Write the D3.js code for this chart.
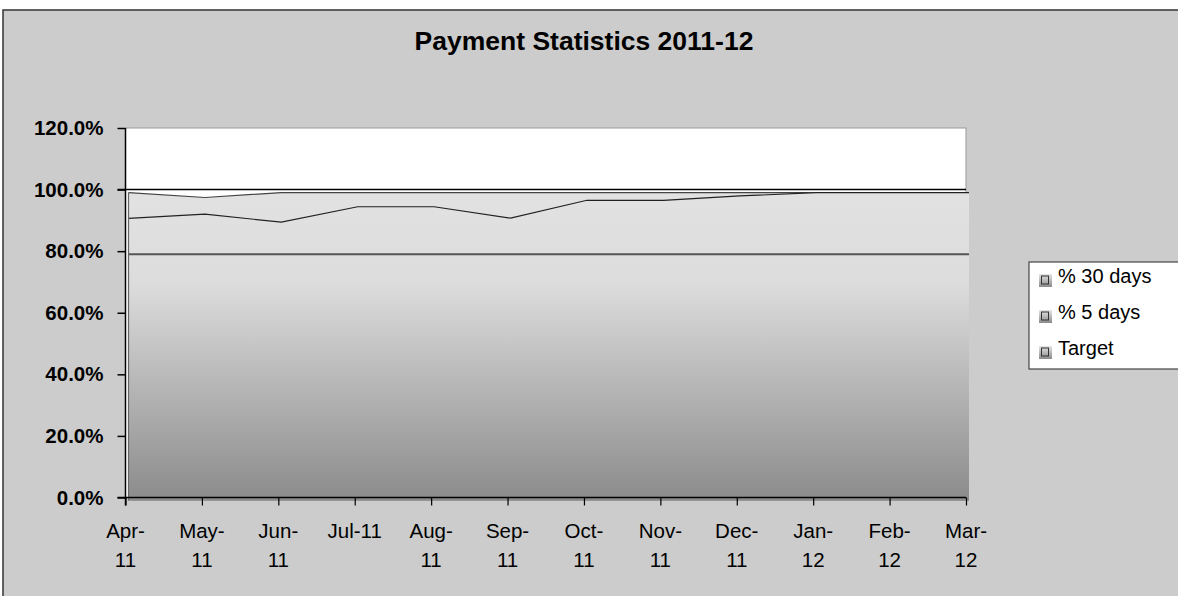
<!DOCTYPE html>
<html>
<head>
<meta charset="utf-8">
<script src="https://cdn.jsdelivr.net/npm/d3@7"></script>
<style>
  body { margin: 0; background: #fff; }
  text { font-family: 'Liberation Sans', Arial, sans-serif; }
</style>
</head>
<body>
<div class="canvas"></div>
<script>
// data
const months = ['Apr-11', 'May-11', 'Jun-11', 'Jul-11', 'Aug-11', 'Sep-11',
  'Oct-11', 'Nov-11', 'Dec-11', 'Jan-12', 'Feb-12', 'Mar-12'];
const pct30 = [100, 98.4, 100, 100, 100, 100, 100, 100, 100, 100, 100, 100];
const pct5 = [91.6, 93.0, 90.4, 95.4, 95.4, 91.7, 97.5, 97.5, 98.9, 100, 100, 100];
const target = [80, 80, 80, 80, 80, 80, 80, 80, 80, 80, 80, 80];
const yTicks = [0, 20, 40, 60, 80, 100, 120];
const seriesNames = ['% 30 days', '% 5 days', 'Target'];

const width = 1178, height = 596;
const plot = { left: 125.5, right: 966, top: 128, bottom: 497.5 };
const depth = 3; // little 3D offset of the series

//Canvas
const svg = d3.select('.canvas')
  .append('svg')
  .attr('width', width)
  .attr('height', height);

// gradient used by the areas and legend keys
const defs = svg.append('defs');
const grad = defs.append('linearGradient')
  .attr('id', 'areaGrad')
  .attr('gradientUnits', 'userSpaceOnUse')
  .attr('x1', 0).attr('x2', 0)
  .attr('y1', plot.top + 60).attr('y2', plot.bottom + depth);
grad.append('stop').attr('offset', '0%').attr('stop-color', '#e2e2e2');
grad.append('stop').attr('offset', '30%').attr('stop-color', '#dcdcdc');
grad.append('stop').attr('offset', '100%').attr('stop-color', '#8a8a8a');

const keyGrad = defs.append('linearGradient')
  .attr('id', 'keyGrad')
  .attr('x1', 0).attr('x2', 0).attr('y1', 0).attr('y2', 1);
keyGrad.append('stop').attr('offset', '0%').attr('stop-color', '#e6e6e6');
keyGrad.append('stop').attr('offset', '100%').attr('stop-color', '#8a8a8a');

// chart background + border
svg.append('rect')
  .attr('x', 3).attr('y', 10)
  .attr('width', width + 10).attr('height', height)
  .attr('fill', '#cccccc')
  .attr('stroke', '#333')
  .attr('stroke-width', 1.5);

// title
svg.append('text')
  .attr('x', 584).attr('y', 50)
  .attr('text-anchor', 'middle')
  .attr('font-size', 26.5)
  .attr('font-weight', 'bold')
  .attr('fill', '#000')
  .text('Payment Statistics 2011-12');

// scales
const x = d3.scalePoint().domain(months).range([plot.left, plot.right]);
const y = d3.scaleLinear().domain([0, 120]).range([plot.bottom, plot.top]);

// plot area
svg.append('rect')
  .attr('x', plot.left).attr('y', plot.top)
  .attr('width', plot.right - plot.left).attr('height', plot.bottom - plot.top)
  .attr('fill', '#fff')
  .attr('stroke', '#999')
  .attr('stroke-width', 1);

// 100% line
svg.append('line')
  .attr('x1', plot.left - 8).attr('x2', plot.right)
  .attr('y1', y(100)).attr('y2', y(100))
  .attr('stroke', '#000')
  .attr('stroke-width', 1.5);

// series (drawn back to front)
const graph = svg.append('g')
  .attr('transform', `translate(${depth},${depth})`);

const area = d3.area()
  .x((d, i) => x(months[i]))
  .y0(y(0))
  .y1((d) => y(d));

const line = d3.line()
  .x((d, i) => x(months[i]))
  .y((d) => y(d));

const series = [
  { values: pct30, stroke: '#444', w: 1.2 },
  { values: pct5, stroke: '#222', w: 1.2 },
  { values: target, stroke: '#555', w: 2 }
];

series.forEach((s) => {
  graph.append('path')
    .attr('d', area(s.values))
    .attr('fill', 'url(#areaGrad)');
  graph.append('path')
    .attr('d', line(s.values))
    .attr('fill', 'none')
    .attr('stroke', s.stroke)
    .attr('stroke-width', s.w);
});

// left edge of the areas
graph.append('line')
  .attr('x1', x(months[0])).attr('x2', x(months[0]))
  .attr('y1', y(pct30[0])).attr('y2', y(0))
  .attr('stroke', '#666')
  .attr('stroke-width', 1.2);

// Y axis
const yAxis = svg.append('g')
  .attr('transform', `translate(${plot.left},0)`)
  .call(d3.axisLeft(y).tickValues(yTicks).tickSize(8).tickPadding(14)
    .tickFormat((d) => d.toFixed(1) + '%'));
yAxis.select('.domain').attr('stroke', '#000').attr('stroke-width', 1.5)
  .attr('d', `M0,${plot.top}V${plot.bottom + 8}`);
yAxis.selectAll('.tick line').attr('stroke', '#000').attr('stroke-width', 1.5);
yAxis.selectAll('.tick text')
  .attr('font-size', 20.5)
  .attr('font-weight', 'bold')
  .attr('fill', '#000')
  .attr('font-family', "'Liberation Sans', Arial, sans-serif");

// X axis
const xAxis = svg.append('g')
  .attr('transform', `translate(0,${plot.bottom})`)
  .call(d3.axisBottom(x).tickSize(8).tickFormat(''));
xAxis.select('.domain').attr('stroke', '#000').attr('stroke-width', 1.5)
  .attr('d', `M${plot.left - 8},0H${plot.right}`);
xAxis.selectAll('.tick line').attr('stroke', '#000').attr('stroke-width', 1.2);

// month labels, wrapped like the original
const labels = svg.append('g')
  .selectAll('text')
  .data(months)
  .enter()
  .append('text')
  .attr('x', (d) => x(d))
  .attr('y', 538)
  .attr('text-anchor', 'middle')
  .attr('font-size', 20.5)
  .attr('fill', '#000');
labels.each(function (d) {
  const t = d3.select(this);
  if (d === 'Jul-11') {
    t.text(d);
  } else {
    const parts = d.split('-');
    t.append('tspan').attr('x', x(d)).text(parts[0] + '-');
    t.append('tspan').attr('x', x(d)).attr('dy', 29).text(parts[1]);
  }
});

// Legend
const legendGroup = svg.append('g');
legendGroup.append('rect')
  .attr('x', 1029).attr('y', 262)
  .attr('width', 150).attr('height', 107)
  .attr('fill', '#fff')
  .attr('stroke', '#444')
  .attr('stroke-width', 1.2);

const items = legendGroup.selectAll('g.item')
  .data(seriesNames)
  .enter()
  .append('g')
  .attr('class', 'item')
  .attr('transform', (d, i) => `translate(1039,${283 + i * 36})`);

items.append('rect')
  .attr('x', 0).attr('y', -9)
  .attr('width', 13).attr('height', 13)
  .attr('fill', 'url(#keyGrad)');
items.append('rect')
  .attr('x', 2.5).attr('y', -7)
  .attr('width', 7).attr('height', 8)
  .attr('fill', 'none')
  .attr('stroke', '#333')
  .attr('stroke-width', 1);
items.append('text')
  .attr('x', 19).attr('y', 0)
  .attr('font-size', 20)
  .attr('fill', '#000')
  .text((d) => d);
</script>
</body>
</html>
